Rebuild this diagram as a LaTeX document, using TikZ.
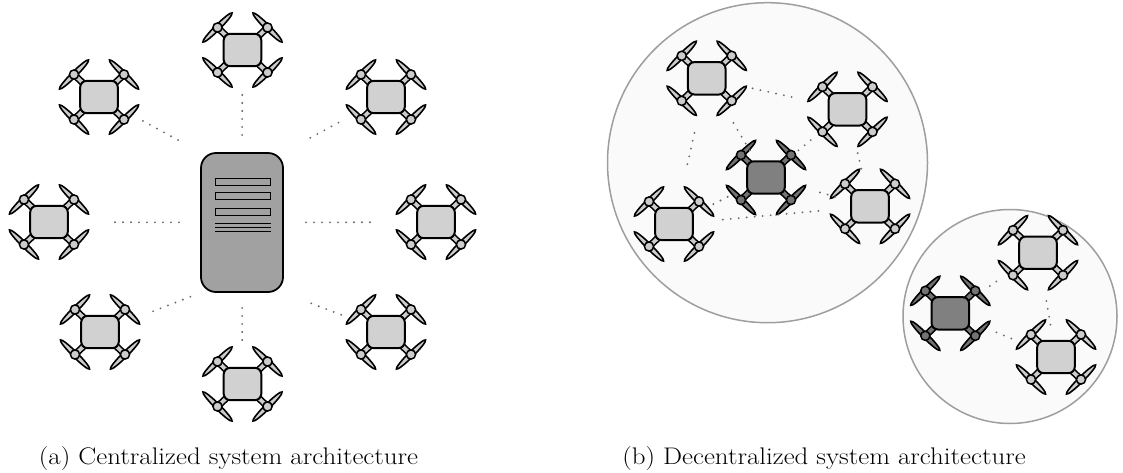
\documentclass[tikz,border=0pt]{standalone}
\usetikzlibrary{calc}
\definecolor{partlight}{gray}{0.80}
\definecolor{bodylight}{gray}{0.82}
\definecolor{partdark}{gray}{0.45}
\definecolor{bodydark}{gray}{0.50}
\definecolor{servergray}{gray}{0.63}
\definecolor{linkgray}{gray}{0.42}
\definecolor{groupfill}{gray}{0.98}
\definecolor{groupline}{gray}{0.62}

\tikzset{
  x=1pt, y=1pt,
  link/.style={draw=linkgray, line width=2.1pt, line cap=round, dash pattern=on 0pt off 8pt},
  group/.style={circle, draw=groupline, fill=groupfill, line width=1.5pt, inner sep=0pt},
  caption/.style={anchor=base, inner sep=0pt, font=\fontsize{24}{28}\selectfont},
}

% quadcopter seen from above: #1 name, #2 x, #3 y, #4 part colour, #5 body colour
\newcommand\quadcopter[5]{%
  \coordinate (#1) at (#2,#3);
  \begin{scope}[shift={(#1)}]
    \foreach \sx/\sy in {1/1,-1/1,1/-1,-1/-1}{
      \draw[line width=7pt, black] (\sx*14,\sy*12) -- (\sx*25,\sy*22.5);
      \draw[line width=3.8pt, #4] (\sx*14,\sy*12) -- (\sx*25,\sy*22.5);
      \draw[line width=1.6pt, fill=#4, rotate around={90+45*\sx*\sy:(\sx*25,\sy*22.5)}]
        (\sx*25,\sy*22.5) ellipse [x radius=20.5, y radius=2.6];
      \draw[line width=1.5pt, fill=#4] (\sx*25,\sy*22.5) circle [radius=4.6];
    }
    \draw[line width=2pt, fill=#5, rounded corners=6.5pt] (-18.8,-16.2) rectangle (18.8,16.2);
  \end{scope}}

\begin{document}
\begin{tikzpicture}
\useasboundingbox (0,0) rectangle (1123,-472);

% ---------- centralized ----------
\node[draw, line width=1.8pt, fill=servergray, rounded corners=15pt,
      minimum width=82, minimum height=139, inner sep=0pt] (srv) at (242,-222.5) {};
\foreach \ya/\yb in {178.5/185.5, 192.5/199.5, 208.5/215.5}
  \draw[line width=1.6pt] (215.5,-\ya) rectangle (270.5,-\yb);
\foreach \yy in {223.3, 227.3, 231.3}
  \draw[line width=1.5pt] (215,-\yy) -- (271,-\yy);

\quadcopter{dT}{242.5}{-50}{partlight}{bodylight}
\quadcopter{dB}{242.5}{-384}{partlight}{bodylight}
\quadcopter{dTL}{99}{-97}{partlight}{bodylight}
\quadcopter{dTR}{386}{-97}{partlight}{bodylight}
\quadcopter{dL}{49}{-222}{partlight}{bodylight}
\quadcopter{dR}{436}{-222}{partlight}{bodylight}
\quadcopter{dBL}{100}{-332}{partlight}{bodylight}
\quadcopter{dBR}{386}{-332}{partlight}{bodylight}

\draw[link, shorten <=45pt, shorten >=13pt] (dT) -- (srv.north);
\draw[link, shorten <=44pt, shorten >=10pt] (dB) -- (srv.south);
\draw[link, shorten <=66pt, shorten >=21pt] (dL) -- (srv.west);
\draw[link, shorten <=66pt, shorten >=21pt] (dR) -- (srv.east);
\draw[link, shorten <=50pt, shorten >=20pt] (dTL) -- (srv.north west);
\draw[link, shorten <=54pt, shorten >=23pt] (dTR) -- (srv.north east);
\draw[link, shorten <=57pt, shorten >=10pt] (dBL) -- (srv.south west);
\draw[link, shorten <=48pt, shorten >=24pt] (dBR) -- (srv.south east);

\node[caption] (capA) at (228.5,-464) {\scalebox{1.12}[1]{(a) Centralized system architecture}};

% ---------- decentralized ----------
\node[group, minimum size=320] (grpA) at (767.5,-162.7) {};
\node[group, minimum size=214] (grpB) at (1010,-316.5) {};

\quadcopter{nA}{706.7}{-78.3}{partlight}{bodylight}
\quadcopter{nB}{847.5}{-109.3}{partlight}{bodylight}
\quadcopter{nC}{766}{-177.5}{partdark}{bodydark}
\quadcopter{nD}{870}{-206.3}{partlight}{bodylight}
\quadcopter{nE}{674}{-224}{partlight}{bodylight}

\draw[link, shorten <=47pt, shorten >=51pt] (nA) -- (nB);
\draw[link, shorten <=52pt, shorten >=29pt] (nA) -- (nC);
\draw[link, shorten <=48pt, shorten >=36pt] (nB) -- (nC);
\draw[link, shorten <=56pt, shorten >=55pt] (nA) -- (nE);
\draw[link, shorten <=43pt, shorten >=41pt] (nC) -- (nE);
\draw[link, shorten <=45pt, shorten >=36pt] (nB) -- (nD);
\draw[link, shorten <=56pt, shorten >=35pt] (nC) -- (nD);
\draw[link, shorten <=49pt, shorten >=48pt] (nE) -- (nD);

\quadcopter{nF}{1038}{-252.7}{partlight}{bodylight}
\quadcopter{nG}{950.3}{-313.3}{partdark}{bodydark}
\quadcopter{nH}{1056}{-357}{partlight}{bodylight}

\draw[link, shorten <=48pt, shorten >=46pt] (nG) -- (nF);
\draw[link, shorten <=49pt, shorten >=29pt] (nF) -- (nH);
\draw[link, shorten <=50pt, shorten >=43pt] (nG) -- (nH);

\node[caption] (capB) at (824,-464) {\scalebox{1.12}[1]{(b) Decentralized system architecture}};
\end{tikzpicture}
\end{document}
